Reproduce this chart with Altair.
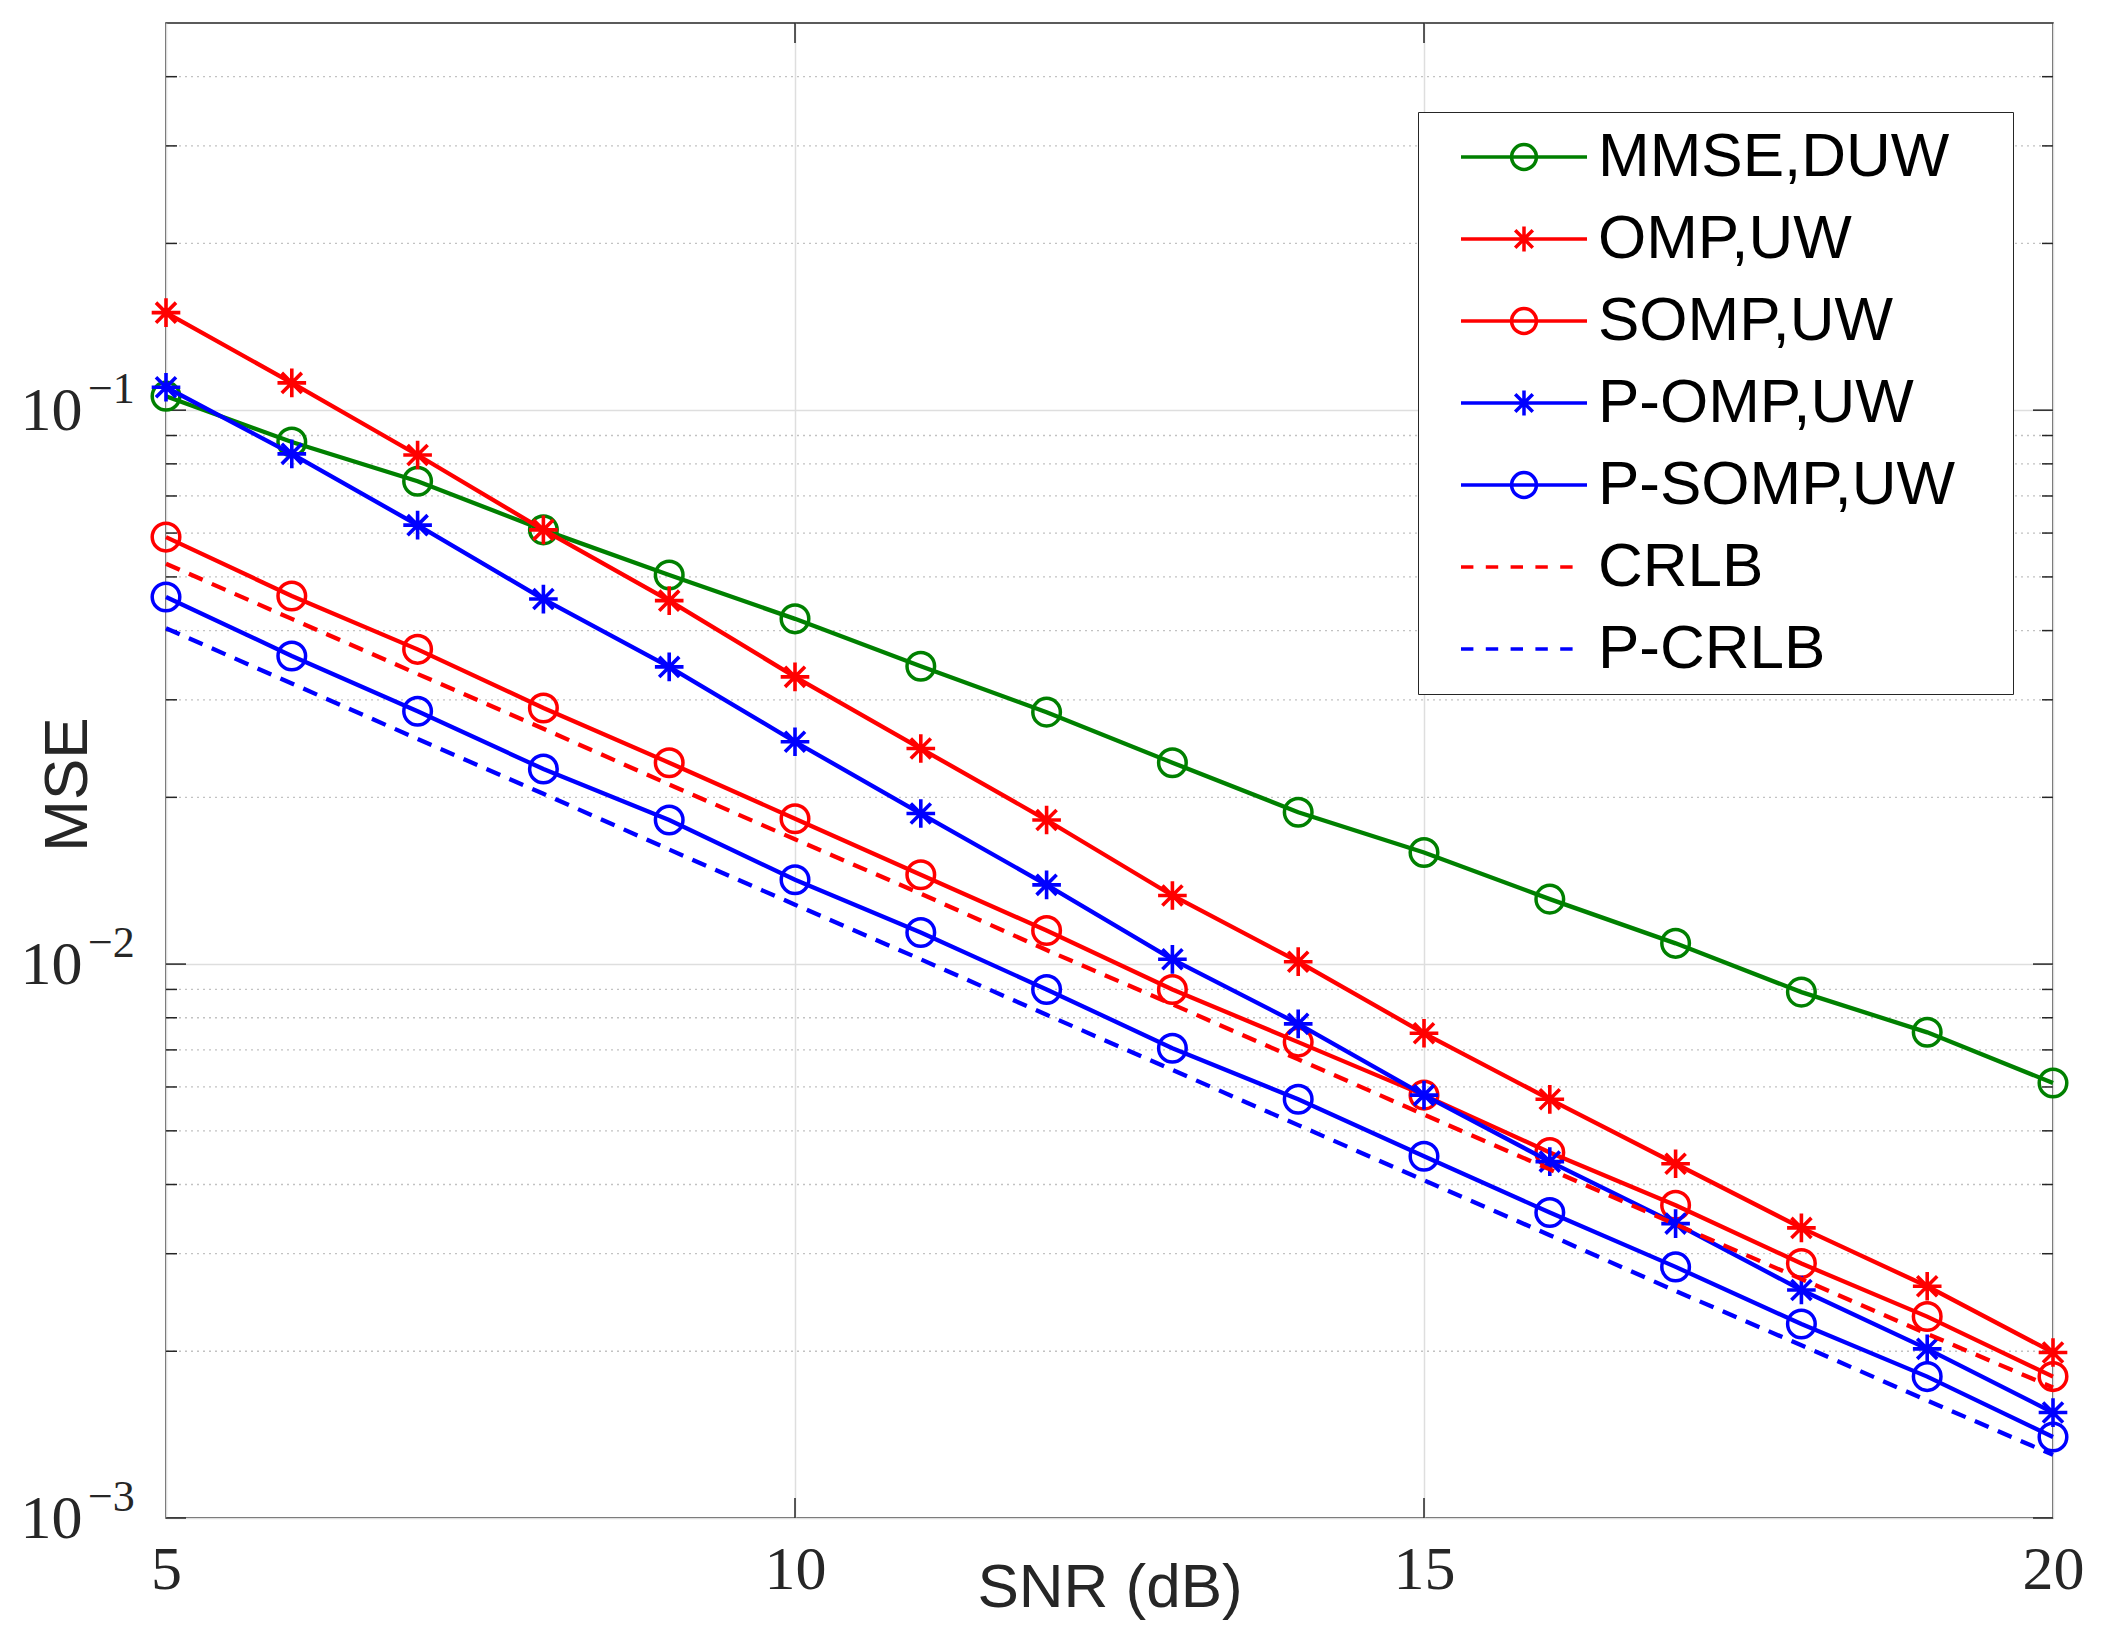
import altair as alt
import pandas as pd

# ---------------- data ----------------
snr = [5, 6, 7, 8, 9, 10, 11, 12, 13, 14, 15, 16, 17, 18, 19, 20]

mmse_duw = [0.106, 0.0876, 0.0744, 0.0608, 0.0504, 0.0420, 0.0345, 0.0285,
            0.0231, 0.0188, 0.0159, 0.0131, 0.0109, 0.0089, 0.00753, 0.0061]
omp_uw = [0.150, 0.112, 0.083, 0.0608, 0.0453, 0.0330, 0.0245, 0.0182,
          0.0133, 0.0101, 0.0075, 0.0057, 0.00436, 0.00334, 0.00262, 0.00199]
somp_uw = [0.059, 0.0462, 0.037, 0.029, 0.0231, 0.0183, 0.0145, 0.0115,
           0.0090, 0.00723, 0.0058, 0.00457, 0.00367, 0.00288, 0.00231, 0.0018]
p_omp_uw = [0.110, 0.0834, 0.062, 0.0456, 0.0344, 0.0252, 0.0187, 0.0139,
            0.0102, 0.0078, 0.0058, 0.0044, 0.0034, 0.00258, 0.00202, 0.00155]
p_somp_uw = [0.046, 0.036, 0.0286, 0.0225, 0.0182, 0.0142, 0.0114, 0.0090,
             0.00705, 0.0057, 0.0045, 0.00356, 0.00284, 0.00224, 0.0018, 0.0014]
crlb = [0.0528, 0.0420, 0.0334, 0.0266, 0.0211, 0.0168, 0.0134, 0.0106,
        0.00846, 0.00673, 0.00535, 0.00426, 0.00339, 0.00270, 0.00215, 0.00172]
p_crlb = [0.0404, 0.0321, 0.0255, 0.0203, 0.0161, 0.0128, 0.0102, 0.0081,
          0.00644, 0.00512, 0.00407, 0.00324, 0.00257, 0.00205, 0.00163, 0.0013]

series_names = ["MMSE,DUW", "OMP,UW", "SOMP,UW", "P-OMP,UW", "P-SOMP,UW", "CRLB", "P-CRLB"]
series_values = [mmse_duw, omp_uw, somp_uw, p_omp_uw, p_somp_uw, crlb, p_crlb]
series_colors = ["#008000", "#ff0000", "#ff0000", "#0000ff", "#0000ff", "#ff0000", "#0000ff"]
series_markers = ["circle", "star", "circle", "star", "circle", "none", "none"]
series_dashed = [False, False, False, False, False, True, True]

x_ticks = [5, 10, 15, 20]
x_inner_ticks = [10, 15]
y_major = [0.001, 0.01, 0.1]
y_exponents = ["\u22123", "\u22122", "\u22121"]
y_minor = [0.002, 0.003, 0.004, 0.005, 0.006, 0.007, 0.008, 0.009,
           0.02, 0.03, 0.04, 0.05, 0.06, 0.07, 0.08, 0.09,
           0.2, 0.3, 0.4]

x_title = "SNR (dB)"
y_title = "MSE"

# ---------------- styling ----------------
W, H = 1887, 1495
INK = "#262626"
GRID = "#dedede"
MINOR = "#c2c2c2"
SERIF = "Liberation Serif"
SANS = "Liberation Sans"

STAR_PATH = "M-1,0H1M0,-1V1M-0.7,-0.7L0.7,0.7M-0.7,0.7L0.7,-0.7"
# legend glyphs (line + marker); the trailing move-to widens the legend box
LEG_PAD = "M23.4,0"
LEG_CIRCLE = "M-3.15,0H3.15M-0.62,0A0.62,0.62 0 1,0 0.62,0A0.62,0.62 0 1,0 -0.62,0" + LEG_PAD
LEG_STAR = "M-3.15,0H3.15M0,-0.62V0.62M-0.44,-0.44L0.44,0.44M-0.44,0.44L0.44,-0.44" + LEG_PAD
LEG_DASH = "M-3.15,0H-2.53M-1.91,0H-1.29M-0.67,0H-0.05M0.57,0H1.19M1.81,0H2.43" + LEG_PAD
legend_paths = []
for m, d in zip(series_markers, series_dashed):
    if d:
        legend_paths.append(LEG_DASH)
    elif m == "star":
        legend_paths.append(LEG_STAR)
    else:
        legend_paths.append(LEG_CIRCLE)

rows = []
for name, vals in zip(series_names, series_values):
    for s, v in zip(snr, vals):
        rows.append({"snr": s, "mse": v, "series": name})
df = pd.DataFrame(rows)
major_df = pd.DataFrame({"v": y_major, "exp": y_exponents})
minor_df = pd.DataFrame({"v": y_minor})
xt_df = pd.DataFrame({"t": x_inner_ticks})

x_scale = alt.Scale(domain=[5, 20], nice=False, zero=False)
y_scale = alt.Scale(type="log", domain=[0.001, 0.5], nice=False)
color_scale = alt.Scale(domain=series_names, range=series_colors)

x_axis = alt.Axis(values=x_ticks, grid=True, gridColor=GRID, gridWidth=1.5,
                  domain=False, ticks=False, tickSize=0,
                  labelFont=SERIF, labelFontSize=62, labelColor=INK,
                  labelPadding=21, labelFlush=False, labelOverlap=False, format="d",
                  title=x_title, titleFont=SANS, titleFontSize=62,
                  titleFontWeight="normal", titleColor=INK, titleY=88,
                  titleBaseline="alphabetic")
y_axis = alt.Axis(values=y_major, grid=True, gridColor=GRID, gridWidth=1.5,
                  domain=False, ticks=False, tickSize=0,
                  labelExpr="'10'", labelFont=SERIF, labelFontSize=62,
                  labelColor=INK, labelPadding=84, labelOverlap=False,
                  title=y_title, titleFont=SANS, titleFontSize=62,
                  titleFontWeight="normal", titleColor=INK,
                  titleX=-80, titleY=761, titleBaseline="alphabetic",
                  titleAlign="center")

leg = alt.Legend(title=None, orient="none", legendX=1252, legendY=89, padding=14,
                 fillColor="white", strokeColor=INK, labelFont=SANS, labelFontSize=62,
                 labelColor="black", labelLimit=1000, labelOffset=43, symbolOffset=61,
                 symbolSize=1600, symbolStrokeWidth=3.5, rowPadding=20)

X = alt.X("snr:Q", scale=x_scale, axis=x_axis)
Y = alt.Y("mse:Q", scale=y_scale, axis=y_axis)
C = alt.Color("series:N", scale=color_scale, legend=leg)
YV = alt.Y("v:Q", scale=y_scale, axis=y_axis)
XT = alt.X("t:Q", scale=x_scale, axis=x_axis)

layers = []

# minor dotted grid
layers.append(alt.Chart(minor_df).mark_rule(color=MINOR, strokeWidth=1.3, strokeDash=[2, 4]).encode(y=YV))

# inward ticks
tick_kw = dict(color=INK, strokeWidth=1.5)
layers.append(alt.Chart(major_df).mark_rule(**tick_kw).encode(y=YV, x=alt.value(0), x2=alt.value(20)))
layers.append(alt.Chart(major_df).mark_rule(**tick_kw).encode(y=YV, x=alt.value(W - 20), x2=alt.value(W)))
layers.append(alt.Chart(minor_df).mark_rule(**tick_kw).encode(y=YV, x=alt.value(0), x2=alt.value(11)))
layers.append(alt.Chart(minor_df).mark_rule(**tick_kw).encode(y=YV, x=alt.value(W - 11), x2=alt.value(W)))
layers.append(alt.Chart(xt_df).mark_rule(**tick_kw).encode(x=XT, y=alt.value(H - 20), y2=alt.value(H)))
layers.append(alt.Chart(xt_df).mark_rule(**tick_kw).encode(x=XT, y=alt.value(0), y2=alt.value(20)))

# series
for name, marker, dashed in zip(series_names, series_markers, series_dashed):
    src = df[df["series"] == name]
    line_kw = dict(strokeWidth=4.3)
    if dashed:
        line_kw["strokeDash"] = [15, 10]
    layers.append(alt.Chart(src).mark_line(**line_kw).encode(x=X, y=Y, color=C))
    if marker == "circle":
        layers.append(alt.Chart(src).mark_point(shape="circle", filled=False, size=760,
                                                strokeWidth=3.5, opacity=1).encode(x=X, y=Y, color=C))
    elif marker == "star":
        layers.append(alt.Chart(src).mark_point(shape=STAR_PATH, filled=False, size=820,
                                                strokeWidth=3.6, opacity=1).encode(x=X, y=Y, color=C))

# exponent of y tick labels
layers.append(alt.Chart(major_df).mark_text(align="left", baseline="middle", font=SERIF,
                                            fontSize=44, color=INK, dy=-20).encode(
    y=YV, x=alt.value(-78), text="exp:N"))

# legend
layers.append(alt.Chart(df).transform_filter("datum.mse < 0").mark_point(
    filled=False, opacity=1, strokeWidth=3.5, size=1600).encode(
    x=X, y=Y, color=C,
    shape=alt.Shape("series:N", scale=alt.Scale(domain=series_names, range=legend_paths), legend=leg)))

chart = alt.layer(*layers).properties(
    width=W, height=H,
    padding={"left": 158, "top": 15, "right": 40, "bottom": 105},
    autosize=alt.AutoSizeParams(type="none"),
).configure(background="white").configure_view(stroke=INK, strokeWidth=1.5)

chart.save("out.html", embed_options={"renderer": "svg", "actions": False})
